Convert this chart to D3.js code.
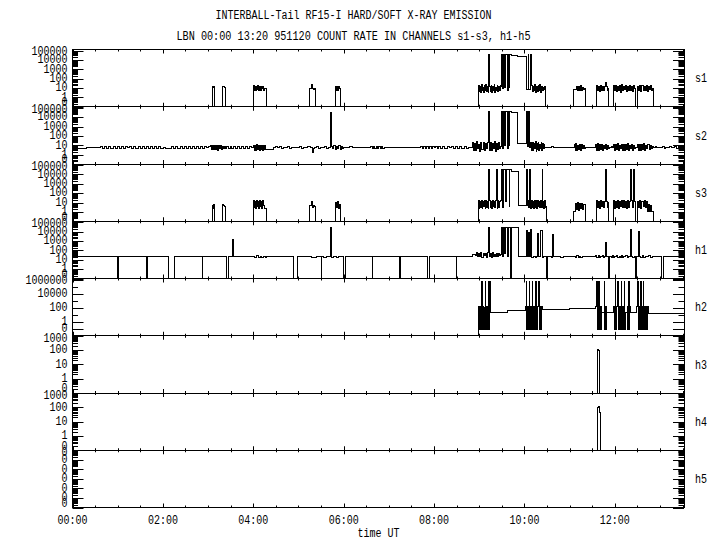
<!DOCTYPE html>
<html>
<head>
<meta charset="utf-8">
<script src="https://cdn.jsdelivr.net/npm/d3@7/dist/d3.min.js"></script>
<style>
  body { margin: 0; background: #fff; }
  text { font-family: "Liberation Mono", "DejaVu Sans Mono", monospace; font-size: 12px; fill: #000; }
</style>
</head>
<body>
<svg id="chart" width="720" height="550"></svg>
<script>
// Count rates as runs: [startHour, endHour, [samples spread evenly in the run]]
var s1 = [
  [0, 3.09, [0.1]],
  [3.09, 3.15, [14, 12, 13]],
  [3.15, 3.32, [0.1]],
  [3.32, 3.39, [13, 14, 12]],
  [3.39, 4.01, [0.1]],
  [4.01, 4.29, [17, 6, 15, 5, 14, 7, 18, 5, 15, 6, 13, 5, 16, 8, 14, 6, 9, 8, 8]],
  [4.29, 5.25, [0.1]],
  [5.25, 5.37, [9, 9, 24, 9, 7, 8]],
  [5.37, 5.81, [0.1]],
  [5.81, 5.93, [14, 5, 16, 6, 13, 9]],
  [5.93, 8.98, [0.1]],
  [8.98, 9.48, [20, 4, 15, 3.5, 24, 6, 12, 3, 18, 5, 22, 4, 15, 3.2, 40000, 14, 4, 20, 3.5, 16, 6, 25, 3, 12, 5, 19, 4, 14, 6, 18]],
  [9.48, 9.72, [14, 40000, 8, 40000, 12, 40000, 40000, 6, 40000, 12, 40000, 40000]],
  [9.72, 9.85, [30000]],
  [9.85, 10.04, [25000]],
  [10.04, 10.16, [7, 7, 40000, 7, 7, 40000]],
  [10.16, 10.47, [20, 4, 15, 5, 24, 3.5, 13, 4, 18, 6, 22, 3.2, 16, 5, 12, 7, 14]],
  [10.47, 11.08, [0.1]],
  [11.08, 11.34, [7, 7, 7, 16, 5, 14, 6, 17, 5, 12, 7, 8]],
  [11.34, 11.59, [0.1]],
  [11.59, 11.87, [18, 5, 14, 4, 20, 6, 13, 5, 16, 38, 14, 6, 8]],
  [11.87, 11.98, [0.1]],
  [11.98, 12.46, [18, 5, 20, 4, 14, 6, 17, 3.5, 22, 5, 13, 7, 18, 4, 15, 5, 21, 6, 13, 4, 17, 8]],
  [12.46, 12.51, [0.1]],
  [12.51, 12.85, [16, 5, 18, 4, 20, 6, 13, 5, 17, 4, 14, 7, 19, 5, 9]],
  [12.85, 13.53, [0.1]]
];

var s2 = [
  [0, 0.3, [4.4]],
  [0.3, 0.62, [5.8]],
  [0.62, 2.05, [7.2, 4.6, 7.6, 4.2, 6.8, 5, 7.8, 4.4, 7, 4.8, 7.4, 4.1, 6.6, 5.2, 7.7, 4.5, 7.1, 4.9, 7.5, 4.3, 6.9, 5.1, 7.6, 4.2, 7, 4.7, 7.8, 4.4, 7.2, 5, 6]],
  [2.05, 2.2, [4.4]],
  [2.2, 3.05, [7, 4.8, 7.4, 4.4, 6.9, 5, 7.6, 4.5, 6.8, 5.1, 7.3, 4.3, 7, 4.9, 7.5, 4.6, 6.8, 5.2, 6.6]],
  [3.05, 3.4, [9, 3.6, 10, 3.2, 8.5, 3.9, 9.6, 2.6, 8.8, 4, 9.4, 3.4, 8, 4.4, 7, 5]],
  [3.4, 4.0, [7, 4.8, 7.4, 4.5, 6.8, 5, 7.5, 4.4, 6.9, 4.9, 7.3, 4.6, 6.7, 5.4]],
  [4.0, 4.3, [10, 3, 9, 2.6, 11, 3.4, 9.5, 2.8, 8.5, 3.6, 10.5, 2.5, 9.2, 3.2, 9.8, 3.8]],
  [4.3, 4.45, [3.6]],
  [4.45, 5.3, [5.8, 6.6, 5.2, 6.9, 5, 6.4, 5.4, 6.8, 5.1, 6.2, 5.7, 6.5, 5.3, 7, 5, 6, 5.6, 6.6, 5.2]],
  [5.3, 5.36, [1.6, 5]],
  [5.36, 5.71, [5.8, 6.8, 5.1, 6.5, 5.4, 7, 5, 6.2]],
  [5.71, 5.73, [32000]],
  [5.73, 6.0, [8, 4, 8.6, 3.6, 7.5, 4.4, 8.4, 3.8, 7.2, 5]],
  [6.0, 6.6, [5.8, 6.4, 5.4, 6.6, 5.6, 6.2, 5.3, 6.5, 5.7, 6.1, 5.5, 6.4, 5.8]],
  [6.6, 6.9, [7.6, 4.2, 8, 4, 7.2, 4.6, 7.8, 4.4, 7, 5]],
  [6.9, 7.7, [5.8, 6.2, 5.6, 6, 5.8, 5.9, 5.6, 6.1, 5.8]],
  [7.7, 8.1, [7, 4.8, 7.4, 4.6, 6.9, 5, 7.2, 4.7, 6.7, 5.2, 7, 5]],
  [8.1, 8.85, [6.6, 5, 7, 4.8, 6.8, 5.2, 7.2, 4.7, 6.7, 5.1, 6.9, 4.9, 7.1, 5, 6.5, 5.4]],
  [8.85, 9.48, [20, 3, 16, 2.5, 24, 4, 12, 2.2, 18, 3.5, 22, 2.8, 14, 4.5, 19, 36000, 3, 21, 2.6, 17, 4, 25, 2.4, 15, 3.2, 20, 5]],
  [9.48, 9.72, [8, 36000, 5, 36000, 10, 36000, 36000, 4, 36000, 9, 36000, 36000]],
  [9.72, 9.85, [29000]],
  [9.85, 10.04, [15]],
  [10.04, 10.14, [36000, 8, 36000, 36000, 6]],
  [10.14, 10.47, [18, 3, 22, 2.5, 15, 4, 24, 2.2, 17, 3.5, 20, 2.8, 13, 4.6, 19, 3, 16, 5, 12, 6]],
  [10.47, 11.1, [5.8, 6.4, 5.3, 6.6, 5.5, 6.2, 5.2, 6.5, 5.6, 6.3, 5.4, 6.4, 5.6, 6]],
  [11.1, 11.34, [12, 3, 14, 2.5, 10, 3.8, 13, 2.8, 11, 4, 9, 4.5]],
  [11.34, 11.58, [5.8, 6.4, 5.3, 6.2, 5.5]],
  [11.58, 11.88, [12, 3, 14, 2.6, 11, 3.5, 13, 2.8, 10, 4, 12, 3.2, 9, 4.8]],
  [11.88, 11.97, [6.2, 5.2, 6.6, 5.4]],
  [11.97, 12.46, [13, 2.8, 11, 3.4, 14, 2.5, 10, 4, 12, 3, 13, 2.6, 11, 3.6, 14, 3, 10, 4.2, 12, 2.9, 9, 4.5]],
  [12.46, 12.5, [5.8]],
  [12.5, 12.85, [12, 3, 13, 2.7, 11, 3.6, 14, 2.9, 10, 4, 12, 3.3, 9, 4.8, 7]],
  [12.85, 13.53, [5.8, 6.6, 5.2, 6.4, 5.5, 6.8, 5, 6.2, 5.6, 6.7, 5.2, 6.5, 8, 4, 8.5, 3.5, 6]]
];

var s3 = [
  [0, 3.09, [0.1]],
  [3.09, 3.15, [5, 2.5, 6]],
  [3.15, 3.32, [0.1]],
  [3.32, 3.39, [6, 5, 4]],
  [3.39, 4.01, [0.1]],
  [4.01, 4.29, [16, 3, 14, 2.5, 17, 4, 12, 2.3, 15, 3.5, 13, 2.6, 16, 5, 2.2, 2.2, 2.2]],
  [4.29, 5.25, [0.1]],
  [5.25, 5.37, [4.5, 5, 12, 3, 5, 4]],
  [5.37, 5.81, [0.1]],
  [5.81, 5.93, [10, 3, 14, 2.5, 6]],
  [5.93, 8.98, [0.1]],
  [8.98, 9.48, [17, 2.5, 14, 3, 16, 2.3, 12, 4, 15, 2.6, 17, 3.2, 13, 2.4, 35000, 16, 3, 14, 2.5, 17, 3.5, 12, 2.8, 15, 35000, 2.4, 16, 3, 14, 12]],
  [9.48, 9.72, [16, 35000, 3, 35000, 35000, 12, 35000, 35000, 35000, 4, 35000, 35000]],
  [9.72, 9.86, [23000]],
  [9.86, 10.04, [4.3]],
  [10.04, 10.49, [35000, 4.3, 16, 3, 35000, 14, 2.5, 17, 3.2, 13, 2.4, 16, 3, 15, 2.6, 17, 3.5, 12, 2.8, 16, 3, 35000, 14, 2.5, 16, 3.2, 4]],
  [10.49, 11.08, [0.1]],
  [11.08, 11.34, [1, 1, 8, 2, 9, 1.5, 8, 2.2, 7, 1.6, 6]],
  [11.34, 11.59, [0.1]],
  [11.59, 11.87, [15, 3, 13, 2.5, 16, 4, 12, 3, 14, 35000, 13, 3, 10]],
  [11.87, 11.98, [0.1]],
  [11.98, 12.46, [16, 2.6, 14, 3, 17, 2.4, 13, 3.4, 15, 2.8, 16, 3, 12, 2.5, 17, 3.3, 14, 35000, 15, 2.7, 35000, 13]],
  [12.46, 12.51, [0.1]],
  [12.51, 12.85, [14, 3, 15, 2.6, 13, 4, 16, 3, 12, 1, 6, 1, 5, 1, 1]],
  [12.85, 13.53, [0.1]]
];

var h1 = [
  [0, 0.99, [20]],
  [0.99, 1.02, [0.1]],
  [1.02, 1.64, [20]],
  [1.64, 1.655, [0.1]],
  [1.655, 2.12, [20]],
  [2.12, 2.25, [0.1]],
  [2.25, 2.87, [20]],
  [2.87, 2.885, [0.1]],
  [2.885, 3.41, [20]],
  [3.41, 3.45, [0.1]],
  [3.45, 3.55, [20]],
  [3.55, 3.565, [1500]],
  [3.565, 4.0, [20]],
  [4.0, 4.3, [24, 18, 26, 17, 22, 19, 25, 18]],
  [4.3, 4.9, [20]],
  [4.9, 4.97, [0.1]],
  [4.97, 5.5, [20, 20, 23, 18, 20]],
  [5.5, 5.515, [0.1]],
  [5.515, 5.71, [20, 16, 24, 20]],
  [5.71, 5.73, [25000]],
  [5.73, 6.0, [18, 24, 16, 22, 20]],
  [6.0, 6.03, [0.1]],
  [6.03, 6.63, [20]],
  [6.63, 6.645, [0.1]],
  [6.645, 7.24, [20]],
  [7.24, 7.255, [0.1]],
  [7.255, 7.86, [20, 20, 22, 20]],
  [7.86, 7.89, [0.1]],
  [7.89, 8.49, [20]],
  [8.49, 8.505, [0.1]],
  [8.505, 8.85, [20]],
  [8.85, 9.48, [35, 35, 35, 28, 55, 20, 45, 24, 60, 18, 50, 26, 42, 19, 58, 30000, 22, 48, 17, 55, 25, 40, 20, 52, 23, 45, 30]],
  [9.48, 9.7, [40, 30000, 25, 30000, 50, 30000, 30000, 20, 30000, 30000]],
  [9.7, 9.72, [0.1]],
  [9.72, 9.86, [30000]],
  [9.86, 10.04, [20]],
  [10.04, 10.49, [15000, 20, 9000, 22, 17000, 18, 24, 20, 19, 21, 6000, 20, 22, 12000, 19, 20, 21, 20]],
  [10.49, 10.52, [0.1]],
  [10.52, 10.63, [20, 21, 19]],
  [10.63, 10.645, [5000]],
  [10.645, 11.1, [20, 21, 19, 20, 22, 20]],
  [11.1, 11.34, [24, 17, 26, 18, 23, 19, 25, 20]],
  [11.34, 11.58, [20]],
  [11.58, 11.87, [26, 18, 30, 17, 24, 20, 28, 19, 25, 790, 22, 20]],
  [11.87, 11.89, [0.1]],
  [11.89, 12.45, [24, 18, 27, 17, 25, 20, 30, 18, 23, 19, 28, 17, 24, 21, 26, 18, 25, 20, 18000, 22, 19, 21]],
  [12.45, 12.48, [0.1]],
  [12.48, 12.52, [20]],
  [12.52, 12.535, [10000]],
  [12.535, 13.04, [25, 18, 27, 17, 24, 20, 26, 19, 23, 20, 21, 20, 20, 20]],
  [13.04, 13.07, [0.1]],
  [13.07, 13.53, [20]]
];

var h2 = [
  [0, 8.98, [0.01]],
  [8.98, 9.25, [130, 0.07, 130, 0.07, 470000, 0.07, 130, 0.07, 120, 470000, 0.07, 130, 0.07, 470000, 0.07, 470000]],
  [9.25, 9.63, [22]],
  [9.63, 10.02, [37]],
  [10.02, 10.39, [130, 470000, 0.07, 130, 0.07, 470000, 130, 0.07, 130, 470000, 0.07, 130, 0.07, 470000, 130, 0.07, 130, 470000, 0.07, 130, 0.07, 130]],
  [10.39, 10.99, [47]],
  [10.99, 11.58, [65]],
  [11.58, 11.71, [130, 470000, 0.07, 130, 470000, 0.07, 130, 0.07]],
  [11.71, 11.76, [19]],
  [11.76, 11.82, [470000, 0.07, 130, 0.07]],
  [11.82, 11.97, [19]],
  [11.97, 12.24, [130, 0.07, 470000, 0.07, 130, 470000, 0.07, 130, 0.07, 130, 470000, 0.07, 130, 0.07, 470000, 0.07]],
  [12.24, 12.27, [19]],
  [12.27, 12.35, [130, 0.07, 470000, 0.07, 130]],
  [12.35, 12.49, [19]],
  [12.49, 12.74, [130, 470000, 0.07, 130, 0.07, 470000, 0.07, 130, 470000, 0.07, 130, 0.07, 130, 0.07, 130]],
  [12.74, 13.53, [16]]
];

var h3 = [
  [0, 11.625, [0.1]],
  [11.625, 11.67, [107, 100]],
  [11.67, 13.53, [0.1]]
];

var h4 = [
  [0, 11.625, [0.1]],
  [11.625, 11.685, [100, 110, 42]],
  [11.685, 13.53, [0.1]]
];

var h5 = [
  [0, 13.53, [0.000001]]
];

// Names and tick labels
var channels = ["s1", "s2", "s3", "h1", "h2", "h3", "h4", "h5"];
var channelData = [s1, s2, s3, h1, h2, h3, h4, h5];
var hourTicks = [0, 2, 4, 6, 8, 10, 12];
var hourLabels = ["00:00", "02:00", "04:00", "06:00", "08:00", "10:00", "12:00"];
var titleLines = ["INTERBALL-Tail RF15-I HARD/SOFT X-RAY EMISSION",
                  "LBN 00:00 13:20 951120  COUNT RATE IN CHANNELS s1-s3, h1-h5"];

var sTickValues = [100000, 10000, 1000, 100, 10, 1, 0.1];
var sTickLabels = ["100000", "10000", "1000", "100", "10", "1", "0"];
var h2TickValues = [1000000, 10000, 100, 1, 0.1];
var h2TickLabels = ["1000000", "10000", "100", "1", "0"];
var h2ShortTicks = [100000, 1000, 10, 0.1];
var h34TickValues = [1000, 100, 10, 1, 0.1];
var h34TickLabels = ["1000", "100", "10", "1", "0"];
var h5TickValues = [1, 0.1, 0.01, 0.001, 0.0001, 0.00001, 0.000001];
var h5TickLabels = ["0", "0", "0", "0", "0", "0", "0"];

// Layout
var left = 72.5, right = 684, top0 = 49.5, panelH = 57.25;
var svg = d3.select("#chart");
var x = d3.scaleLinear().domain([0, 13.53]).range([left, right]);

// Axis settings per panel
var sAxis   = { domain: [0.1, 130000], values: sTickValues, labels: sTickLabels, minor: true, short: [] };
var h2Axis  = { domain: [0.01, 1400000], values: h2TickValues, labels: h2TickLabels, minor: false, short: h2ShortTicks };
var h34Axis = { domain: [0.1, 1000], values: h34TickValues, labels: h34TickLabels, minor: true, short: [] };
var h5Axis  = { domain: [0.000001, 1], values: h5TickValues, labels: h5TickLabels, minor: true, short: [] };
var axisConf = [sAxis, sAxis, sAxis, sAxis, h2Axis, h34Axis, h34Axis, h5Axis];

// Turn runs into step points
function runsToPoints(runs) {
  var pts = [];
  runs.forEach(function(r) {
    var n = r[2].length, dt = (r[1] - r[0]) / n;
    r[2].forEach(function(v, i) { pts.push([r[0] + i * dt, v]); });
  });
  var last = runs[runs.length - 1];
  pts.push([last[1], last[2][last[2].length - 1]]);
  return pts;
}

// Minor log ticks 2..9 inside the domain
function minorTicks(domain) {
  var out = [];
  for (var e = Math.floor(Math.log10(domain[0])); e <= Math.ceil(Math.log10(domain[1])); e++) {
    for (var k = 2; k <= 9; k++) {
      var v = k * Math.pow(10, e);
      if (v > domain[0] && v < domain[1]) out.push(v);
    }
  }
  return out;
}

function fitText(sel, str) {
  sel.text(str).attr("textLength", str.length * 6).attr("lengthAdjust", "spacingAndGlyphs");
}

// Titles
titleLines.forEach(function(t, i) {
  svg.append("text").attr("x", 353.5).attr("y", 19 + i * 21).attr("text-anchor", "middle").call(fitText, t);
});

channels.forEach(function(name, p) {
  var top = top0 + p * panelH, bottom = top + panelH;
  var conf = axisConf[p];
  var y = d3.scaleLog().domain(conf.domain).range([bottom, top]).clamp(true);
  var g = svg.append("g").attr("class", "panel");

  // Clip
  svg.append("clipPath").attr("id", "clip" + p)
    .append("rect").attr("x", left).attr("y", top).attr("width", right - left).attr("height", panelH);

  // Data line
  var line = d3.line()
    .x(function(d) { return x(d[0]); })
    .y(function(d) { return y(Math.max(d[1], conf.domain[0])); })
    .curve(d3.curveStepAfter);
  g.append("path")
    .datum(runsToPoints(channelData[p]))
    .attr("clip-path", "url(#clip" + p + ")")
    .attr("d", line)
    .attr("fill", "none").attr("stroke", "#000").attr("stroke-width", 1)
    .attr("shape-rendering", "crispEdges");

  // Frame
  g.append("rect").attr("x", left).attr("y", top).attr("width", right - left).attr("height", panelH)
    .attr("fill", "none").attr("stroke", "#000").attr("stroke-width", 1).attr("shape-rendering", "crispEdges");

  // Y ticks on both sides
  var yTicks = conf.values.map(function(v) { return { v: v, len: 11 }; })
    .concat(conf.short.map(function(v) { return { v: v, len: 5.5 }; }))
    .concat(conf.minor ? minorTicks(conf.domain).map(function(v) { return { v: v, len: 5.5 }; }) : []);
  [[left, 1], [right, -1]].forEach(function(side) {
    g.selectAll(null).data(yTicks).enter().append("line")
      .attr("x1", side[0]).attr("x2", function(d) { return side[0] + side[1] * d.len; })
      .attr("y1", function(d) { return Math.round(y(d.v)) + 0.5; })
      .attr("y2", function(d) { return Math.round(y(d.v)) + 0.5; })
      .attr("stroke", "#000").attr("stroke-width", 1);
  });

  // Y labels
  conf.values.forEach(function(v, i) {
    var c = Math.min(Math.max(y(v) - 1, top + 1.5), bottom - 5);
    g.append("text").attr("x", 67.5).attr("y", c + 4.3).attr("text-anchor", "end").call(fitText, conf.labels[i]);
  });

  // X ticks, top and bottom of each panel
  var xMinor = d3.range(0, 13.53, 0.5).filter(function(h) { return h % 2 !== 0; });
  [[top, 1], [bottom, -1]].forEach(function(edge) {
    g.selectAll(null).data(hourTicks.map(function(h) { return { h: h, len: 4 }; })
      .concat(xMinor.map(function(h) { return { h: h, len: 2 }; })))
      .enter().append("line")
      .attr("x1", function(d) { return Math.round(x(d.h)) + 0.5; })
      .attr("x2", function(d) { return Math.round(x(d.h)) + 0.5; })
      .attr("y1", edge[0]).attr("y2", function(d) { return edge[0] + edge[1] * d.len; })
      .attr("stroke", "#000").attr("stroke-width", 1);
  });

  // Channel name
  g.append("text").attr("x", 695).attr("y", top + panelH / 2 + 4.3).call(fitText, name);
});

// X labels
hourTicks.forEach(function(h, i) {
  svg.append("text").attr("x", x(h)).attr("y", 524).attr("text-anchor", "middle").call(fitText, hourLabels[i]);
});
svg.append("text").attr("x", 378.5).attr("y", 537).attr("text-anchor", "middle").call(fitText, "time UT");
</script>
</body>
</html>
